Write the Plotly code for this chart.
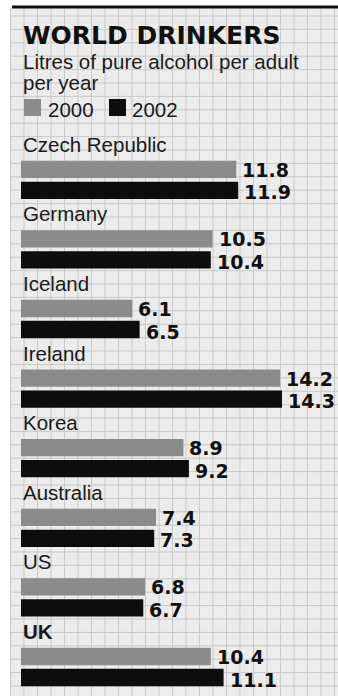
import plotly.graph_objects as go

# ---- data ----
countries = ["Czech Republic", "Germany", "Iceland", "Ireland", "Korea", "Australia", "US", "UK"]
v2000 = [11.8, 10.5, 6.1, 14.2, 8.9, 7.4, 6.8, 10.4]
v2002 = [11.9, 10.4, 6.5, 14.3, 9.2, 7.3, 6.7, 11.1]
years = ["2000", "2002"]
title_text = "WORLD DRINKERS"
subtitle_lines = ["Litres of pure alcohol per adult", "per year"]

# ---- style ----
W, H = 338, 696
GRAY = "#8b8b8b"
BLACK = "#0d0d0d"
BG = "#ececec"
GRID = "#c9c9c9"
SANS = "Liberation Sans, Arial, sans-serif"
HEAVY = "DejaVu Sans, sans-serif"

X0_PX = 21.0        # pixel where bars start
SCALE = 18.25       # pixels per litre
C0_PX = 179.8       # centre of first group
PITCH = 69.6        # pixels between groups


def px(x):
    return x / W


def py(y):
    return 1 - y / H


fig = go.Figure()
fig.add_trace(go.Bar(y=countries, x=v2000, orientation="h", name=years[0],
                     marker=dict(color=GRAY, line=dict(width=0)), hoverinfo="skip"))
fig.add_trace(go.Bar(y=countries, x=v2002, orientation="h", name=years[1],
                     marker=dict(color=BLACK, line=dict(width=0)), hoverinfo="skip"))

n = len(countries)
fig.update_layout(
    width=W, height=H, margin=dict(l=0, r=0, t=0, b=0),
    paper_bgcolor="white", plot_bgcolor="rgba(0,0,0,0)",
    barmode="group", bargap=0.397, bargroupgap=0.176,
    showlegend=False,
    xaxis=dict(range=[-X0_PX / SCALE, (W - X0_PX) / SCALE], visible=False, fixedrange=True),
    yaxis=dict(type="category", categoryorder="array", categoryarray=countries,
               range=[(n - 1) + (H - (C0_PX + (n - 1) * PITCH)) / PITCH, -C0_PX / PITCH],
               visible=False, fixedrange=True),
)

shapes = []
# graph-paper background
shapes.append(dict(type="rect", xref="paper", yref="paper", x0=px(10), x1=1, y0=0, y1=py(7),
                   fillcolor=BG, line=dict(width=0), layer="below"))
vpath = ""
x = 10.5
while x < W:
    vpath += f"M{px(x):.5f},{py(8):.5f}V0 "
    x += 13.5
hpath = ""
y = 418.0
while y > 9:
    y -= 13.4
ys = y + 13.4
while ys < H:
    hpath += f"M{px(10):.5f},{py(ys):.5f}H1 "
    ys += 13.4
shapes.append(dict(type="path", xref="paper", yref="paper", path=vpath,
                   line=dict(color=GRID, width=1), layer="below"))
shapes.append(dict(type="path", xref="paper", yref="paper", path=hpath,
                   line=dict(color=GRID, width=1), layer="below"))
# top rule
shapes.append(dict(type="rect", xref="paper", yref="paper", x0=px(12), x1=1, y0=py(8.5), y1=py(5.5),
                   fillcolor="#111111", line=dict(width=0)))
# legend swatches
shapes.append(dict(type="rect", xref="paper", yref="paper", x0=px(24), x1=px(41), y0=py(116), y1=py(99),
                   fillcolor=GRAY, line=dict(width=0)))
shapes.append(dict(type="rect", xref="paper", yref="paper", x0=px(109), x1=px(126), y0=py(116), y1=py(99),
                   fillcolor=BLACK, line=dict(width=0)))
fig.update_layout(shapes=shapes)

ann = []
ann.append(dict(text=f"<b>{title_text}</b>", xref="paper", yref="paper", x=px(21), y=py(35),
                xanchor="left", yanchor="middle", showarrow=False,
                font=dict(family=HEAVY, size=25, color="#111111")))
for line, cy in zip(subtitle_lines, [61.5, 82.5]):
    ann.append(dict(text=line, xref="paper", yref="paper", x=px(21), y=py(cy),
                    xanchor="left", yanchor="middle", showarrow=False,
                    font=dict(family=SANS, size=20.5, color="#1a1a1a")))
for yr, lx in zip(years, [46, 130]):
    ann.append(dict(text=yr, xref="paper", yref="paper", x=px(lx), y=py(109.5),
                    xanchor="left", yanchor="middle", showarrow=False,
                    font=dict(family=SANS, size=20.5, color="#1a1a1a")))

for c in countries:
    label = f"<b>{c}</b>" if c == "UK" else c
    ann.append(dict(text=label, x=0, y=c, xref="x", yref="y", xanchor="left", yanchor="middle",
                    yshift=35.5, xshift=0, showarrow=False,
                    font=dict(family=SANS, size=20.5, color="#1a1a1a")))
for vals, shift in [(v2000, 10.0), (v2002, -12.5)]:
    for c, v in zip(countries, vals):
        ann.append(dict(text=f"<b>{v:.1f}</b>", x=v, y=c, xref="x", yref="y",
                        xanchor="left", yanchor="middle", xshift=5, yshift=shift, showarrow=False,
                        borderpad=0,
                        font=dict(family=HEAVY, size=19, color="#111111")))
fig.update_layout(annotations=ann)

fig.write_html("out.html", config={"displayModeBar": False})
